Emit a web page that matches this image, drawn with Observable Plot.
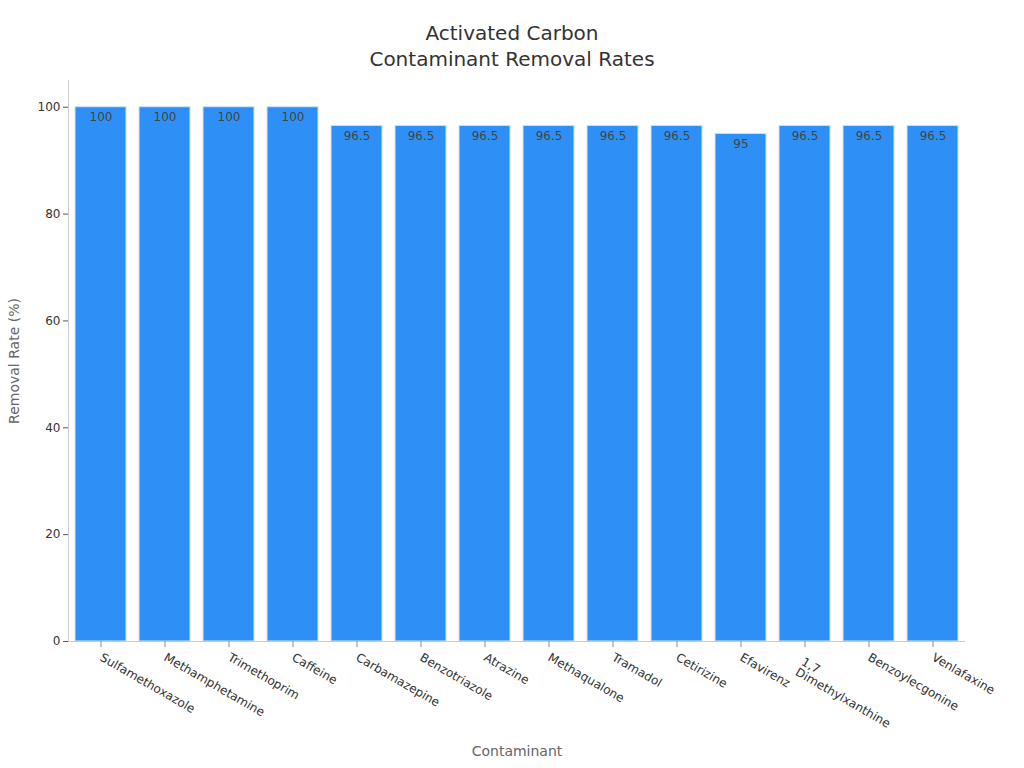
<!DOCTYPE html>
<html>
<head>
<meta charset="utf-8">
<script src="https://cdn.jsdelivr.net/npm/d3@7"></script>
<script src="https://cdn.jsdelivr.net/npm/@observablehq/plot@0.6"></script>
<style>
  html, body { margin: 0; padding: 0; background: #fff; }
  body { width: 1024px; height: 768px; position: relative; font-family: "DejaVu Sans", sans-serif; }
  #title { position: absolute; left: 0; top: 20px; width: 1024px; text-align: center; font-size: 20px; line-height: 26px; color: #333; }
  #chart { position: absolute; left: 0; top: 0; }
</style>
</head>
<body>
<div id="chart"></div>
<div id="title">Activated Carbon<br>Contaminant Removal Rates</div>
<script>
const contaminants = ["Sulfamethoxazole", "Methamphetamine", "Trimethoprim", "Caffeine", "Carbamazepine", "Benzotriazole", "Atrazine", "Methaqualone", "Tramadol", "Cetirizine", "Efavirenz", "1,7\nDimethylxanthine", "Benzoylecgonine", "Venlafaxine"];
const removalRates = [100, 100, 100, 100, 96.5, 96.5, 96.5, 96.5, 96.5, 96.5, 95, 96.5, 96.5, 96.5];
const yTicks = [0, 20, 40, 60, 80, 100];

const data = contaminants.map((c, i) => ({name: c, value: removalRates[i]}));

const chart = Plot.plot({
  width: 1024,
  height: 768,
  marginTop: 80,
  marginBottom: 127,
  marginLeft: 68,
  marginRight: 59,
  style: {fontFamily: "DejaVu Sans, sans-serif", fontSize: "12px", color: "#333", background: "white"},
  x: {domain: contaminants, paddingInner: 0.2, paddingOuter: 0.1},
  y: {domain: [0, 105]},
  marks: [
    Plot.barY(data, {x: "name", y: "value", fill: "#2e90f7", stroke: "#d0e2f6", strokeWidth: 1}),
    Plot.text(data, {x: "name", y: "value", text: d => String(d.value), dy: 10, fill: "#444", fontSize: 12}),
    Plot.ruleY([0], {stroke: "#ccc"}),
    Plot.frame({anchor: "left", stroke: "#ccc"}),
    Plot.axisY({ticks: yTicks, tickSize: 5, tickPadding: 3, stroke: "#555", fill: "#333", fontSize: 12,
      label: "Removal Rate (%)", labelAnchor: "center", labelArrow: "none", labelOffset: 59}),
    Plot.axisX({tickRotate: 30, tickSize: 6, tickPadding: 9, stroke: "#888", fill: "#333", fontSize: 12,
      label: "Contaminant", labelAnchor: "center", labelArrow: "none", labelOffset: 114})
  ]
});
document.getElementById("chart").appendChild(chart);
chart.querySelectorAll("[aria-label='y-axis label'] text, [aria-label='x-axis label'] text").forEach(t => {
  t.setAttribute("fill", "#666");
  t.style.fontSize = "14px";
});
chart.querySelectorAll("[aria-label='x-axis tick label'] text").forEach(t => {
  if (t.textContent.includes("Dimethyl")) {
    t.setAttribute("transform", (t.getAttribute("transform") || "") + " translate(0,11)");
  }
});
</script>
</body>
</html>
